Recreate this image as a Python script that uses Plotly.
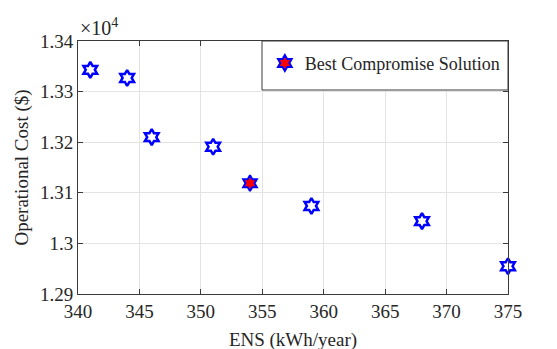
import plotly.graph_objects as go

ens = [341, 344, 346, 351, 359, 368, 375]
cost = [13343, 13327, 13210, 13191, 13074, 13044, 12955]
best_ens = [354]
best_cost = [13119]
x_ticks = [340, 345, 350, 355, 360, 365, 370, 375]
y_ticks = [12900, 13000, 13100, 13200, 13300, 13400]
y_tick_labels = ["1.29", "1.3", "1.31", "1.32", "1.33", "1.34"]

FONT = "Liberation Serif"
AX = "#3a3a3a"

fig = go.Figure()
fig.add_trace(go.Scatter(
    x=ens, y=cost, mode="markers", showlegend=False, cliponaxis=False,
    marker=dict(symbol="hexagram-open", size=12,
                color="blue", line=dict(color="blue", width=2.5)),
))
fig.add_trace(go.Scatter(
    x=best_ens, y=best_cost, mode="markers", name="Best Compromise Solution",
    cliponaxis=False,
    marker=dict(symbol="hexagram", size=12, color="red",
                line=dict(color="blue", width=2)),
))

axis_common = dict(
    showline=True, linecolor=AX, linewidth=1, mirror="ticks",
    ticks="inside", ticklen=5, tickcolor=AX, automargin=False,
    showgrid=True, gridcolor="#e3e3e3", gridwidth=1, zeroline=False,
    tickfont=dict(family=FONT, size=19, color="#262626"),
)
fig.update_xaxes(range=[340, 375], tickvals=x_ticks,
                 title=dict(text="ENS (kWh/year)", font=dict(family=FONT, size=19, color="#262626"), standoff=11),
                 **axis_common)
fig.update_yaxes(range=[12900, 13400], tickvals=y_ticks, ticktext=y_tick_labels,
                 title=dict(text="Operational Cost ($)", font=dict(family=FONT, size=19, color="#262626"), standoff=6),
                 **axis_common)

fig.add_shape(type="rect", xref="paper", yref="paper",
              x0=(262 - 78) / 430, x1=1.0, y0=(294 - 90) / 253, y1=1.0,
              line=dict(color=AX, width=1), fillcolor="white", layer="above")

fig.add_annotation(x=0, y=1, xref="paper", yref="paper", xanchor="left", yanchor="bottom",
                   text="×10<sup>4</sup>", showarrow=False, yshift=0,
                   font=dict(family=FONT, size=20, color="#262626"))

fig.update_layout(
    width=557, height=349,
    margin=dict(l=70, r=57, t=33, b=63),
    plot_bgcolor="white", paper_bgcolor="white",
    legend=dict(x=0.995, y=0.985, xanchor="right", yanchor="top",
                bgcolor="rgba(0,0,0,0)", borderwidth=0,
                font=dict(family=FONT, size=18, color="#262626")),
)

fig.write_html("out.html")
